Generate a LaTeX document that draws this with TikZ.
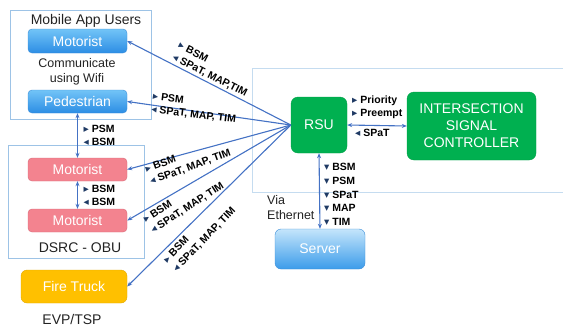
\documentclass[tikz,border=0pt]{standalone}
\usepackage{fontspec}
\setmainfont{Liberation Sans}
\newfontfamily\trifont{DejaVu Sans}
\usetikzlibrary{arrows.meta}

\definecolor{wireblue}{HTML}{4472C4}
\definecolor{grpedge}{HTML}{9DC3E6}
\definecolor{zoneedge}{HTML}{C5DCF0}
\definecolor{bluetop}{HTML}{72C4F7}
\definecolor{bluebot}{HTML}{2C8DE4}
\definecolor{blueedge}{HTML}{3D8ED8}
\definecolor{srvtop}{HTML}{C4E5FB}
\definecolor{srvbot}{HTML}{3C9CEA}
\definecolor{pinkfill}{HTML}{F3838F}
\definecolor{pinkedge}{HTML}{D86A78}
\definecolor{firefill}{HTML}{FFC000}
\definecolor{fireedge}{HTML}{E2A900}
\definecolor{rsugreen}{HTML}{00B050}
\definecolor{rsuedge}{HTML}{00A048}
\definecolor{trinavy}{HTML}{1F3A64}
\definecolor{txtgray}{HTML}{222222}

\newcommand{\rtri}{{\trifont\color{trinavy}\char"25B8}}
\newcommand{\ltri}{{\trifont\color{trinavy}\char"25C2}}
\newcommand{\dtri}{{\trifont\color{trinavy}\char"25BE}}

\begin{document}
\begin{tikzpicture}[x=1pt,y=-1pt,>={Stealth[length=5pt,width=4pt]}]
\useasboundingbox (0,0) rectangle (563,327);

\tikzset{bluebox/.style={rounded corners=4pt,minimum width=99pt,minimum height=24pt,inner sep=0pt,draw=blueedge,top color=bluetop,bottom color=bluebot,text=white,font=\fontsize{14}{16}\selectfont},}
\tikzset{pinkbox/.style={rounded corners=4pt,minimum width=99pt,minimum height=23pt,inner sep=0pt,draw=pinkedge,fill=pinkfill,text=white,font=\fontsize{14}{16}\selectfont},}
\tikzset{firebox/.style={rounded corners=6pt,minimum width=106pt,minimum height=33pt,inner sep=0pt,draw=fireedge,fill=firefill,text=white,font=\fontsize{14}{16}\selectfont},}
\tikzset{greenbox/.style={rounded corners=7pt,inner sep=0pt,draw=rsuedge,fill=rsugreen,text=white,align=center,font=\fontsize{14}{17}\selectfont},}
\tikzset{srvbox/.style={rounded corners=6pt,minimum width=90pt,minimum height=40pt,inner sep=0pt,draw=blueedge,top color=srvtop,bottom color=srvbot,text=white,font=\fontsize{14}{16}\selectfont},}
\tikzset{grp/.style={draw=grpedge,line width=0.8pt},}
\tikzset{caption/.style={inner sep=0pt,text=txtgray,font=\fontsize{14}{16}\selectfont},}
\tikzset{note/.style={inner sep=0pt,text=txtgray,font=\fontsize{12.5}{15.5}\selectfont},}
\tikzset{msg/.style={inner sep=0pt,align=left,font=\fontsize{10.5}{13}\selectfont\bfseries},}
\tikzset{wire/.style={draw=wireblue,line width=1.1pt},}

%GROUPS
\draw[grp] (10,10) rectangle (151,119);
\draw[grp] (8,145) rectangle (144,258);
\draw[draw=zoneedge,line width=0.8pt] (570,68) -- (252,68) -- (252,192) -- (570,192);

\draw (86,21) node [caption] (appusers) {Mobile App Users};
\draw (77,72) node [note,align=center] (wifi) {Communicate\\using Wifi};
\draw (80,248) node [caption] (dsrc) {DSRC - OBU};
\draw (72,319) node [caption] (evp) {EVP/TSP};
\draw (267,207.5) node [note,align=left,anchor=west] (ether) {Via\\Ethernet};

%BOXES
\draw (77.5,41) node [bluebox] (mot0) {Motorist};
\draw (77.5,101.5) node [bluebox,minimum height=23pt] (ped0) {Pedestrian};
\draw (77.5,169.5) node [pinkbox] (mtr1) {Motorist};
\draw (77.5,220.5) node [pinkbox] (mtr2) {Motorist};
\draw (74,286.5) node [firebox] (fire1) {Fire Truck};
\draw (319,125) node [greenbox,minimum width=56pt,minimum height=56pt] (rsu1) {RSU};
\draw (471.5,126) node [greenbox,minimum width=129pt,minimum height=68pt] (isc1) {INTERSECTION\\SIGNAL\\CONTROLLER};
\draw (320,249) node [srvbox] (srv1) {Server};

%LINKS
\draw[->,wire] (rsu1.west) -- (mot0.east);
\draw[->,wire] (rsu1.west) -- (ped0.east);
\draw[->,wire] (rsu1.west) -- (mtr1.east);
\draw[->,wire] (rsu1.west) -- (mtr2.east);
\draw[->,wire] (rsu1.west) -- (fire1.east);
\draw[<->,wire] (ped0.south) -- (mtr1.north);
\draw[<->,wire] (mtr1.south) -- (mtr2.north);
\draw[<->,wire] (rsu1.east) -- (isc1.west);
\draw[<->,wire] (rsu1.south) -- (srv1.north);

%MESSAGES
\draw (176,51) node [msg,anchor=west,rotate=-27] (msgmot0) {\rtri{} BSM\\\ltri{} SPaT, MAP,TIM};
\draw (152,103) node [msg,anchor=west,rotate=-7] (msgped0) {\rtri{} PSM\\\ltri{} SPaT, MAP, TIM};
\draw (148,176) node [msg,anchor=west,rotate=20] (msgmtr1) {\rtri{} BSM\\\ltri{} SPaT, MAP, TIM};
\draw (148,226) node [msg,anchor=west,rotate=33] (msgmtr2) {\rtri{} BSM\\\ltri{} SPaT, MAP, TIM};
\draw (170,266) node [msg,anchor=west,rotate=46] (msgfire1) {\rtri{} BSM\\\ltri{} SPaT, MAP, TIM};
\draw (83.5,135) node [msg,anchor=west] (msgped1) {\rtri{} PSM\\\ltri{} BSM};
\draw (83.5,195) node [msg,anchor=west] (msgmtr12) {\rtri{} BSM\\\ltri{} BSM};
\draw (352,107) node [msg,anchor=west] (msgisc1) {\rtri{} Priority\\\rtri{} Preempt};
\draw (355,133) node [msg,anchor=west] (msgisc2) {\ltri{} SPaT};
\draw (324,194.5) node [msg,anchor=west,font=\fontsize{10.5}{13.75}\selectfont\bfseries] (msgsrv1) {\dtri{} BSM\\\dtri{} PSM\\\dtri{} SPaT\\\dtri{} MAP\\\dtri{} TIM};

\end{tikzpicture}
\end{document}
